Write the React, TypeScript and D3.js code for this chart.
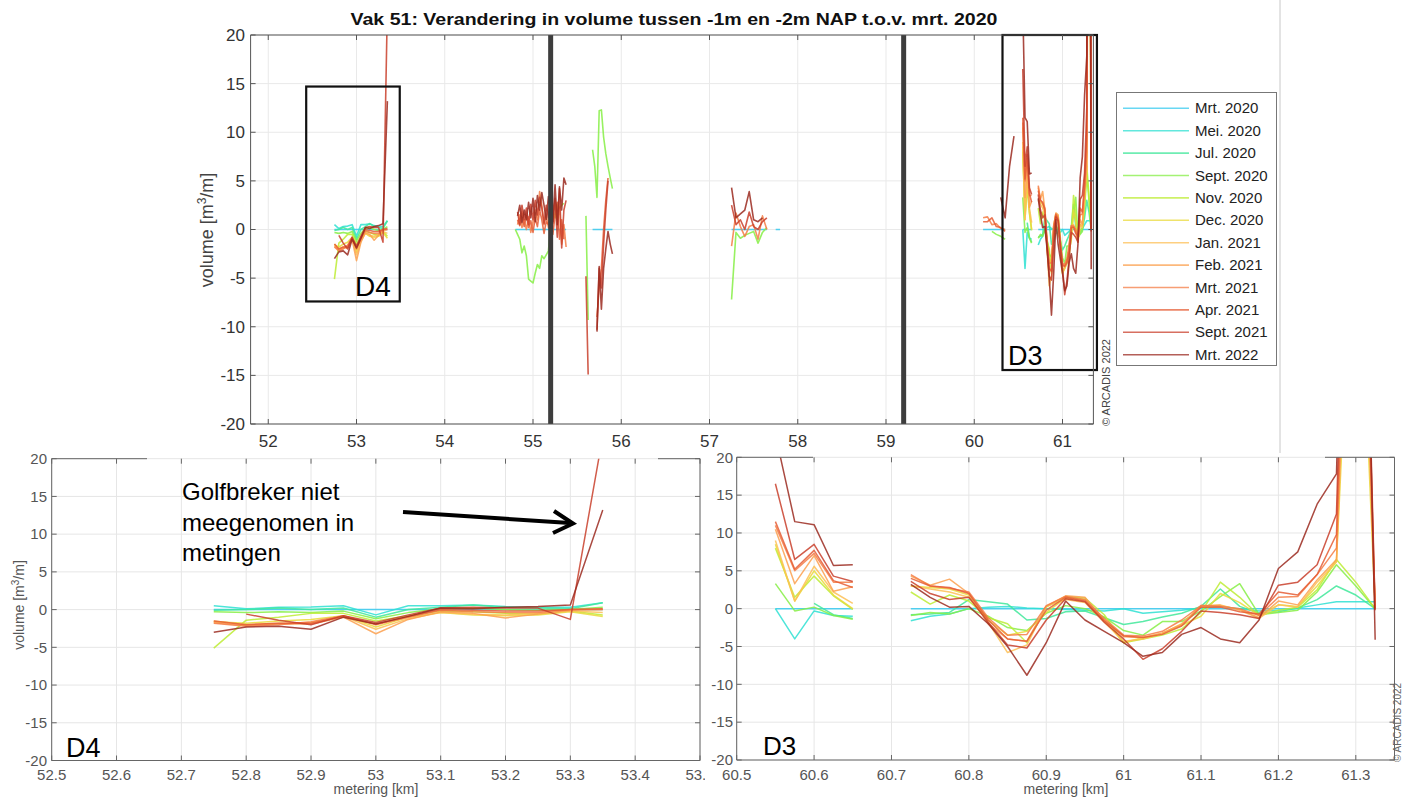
import React from 'react';
import * as d3 from 'd3';

// survey labels and their colours (cyan -> dark red)
const seriesNames = ['Mrt. 2020', 'Mei. 2020', 'Jul. 2020', 'Sept. 2020', 'Nov. 2020', 'Dec. 2020',
  'Jan. 2021', 'Feb. 2021', 'Mrt. 2021', 'Apr. 2021', 'Sept. 2021', 'Mrt. 2022'];
const seriesColors = ['#35c9ef', '#2ee0d2', '#3fe79a', '#86ee45', '#bdec34', '#ead93a',
  '#fdbf55', '#fba04f', '#f47d45', '#e55d35', '#c93f2b', '#9b2a20'];

const xTicksTop = [52, 53, 54, 55, 56, 57, 58, 59, 60, 61];
const xTicksD4 = [52.5, 52.6, 52.7, 52.8, 52.9, 53, 53.1, 53.2, 53.3, 53.4, 53.5];
const xTicksD3 = [60.5, 60.6, 60.7, 60.8, 60.9, 61, 61.1, 61.2, 61.3];
const yTicks = [-20, -15, -10, -5, 0, 5, 10, 15, 20];
const barKm = [55.2, 59.2];

// D4 stretch
const kmD4 = [52.75, 52.8, 52.85, 52.9, 52.95, 53.0, 53.05, 53.1, 53.15, 53.2, 53.25, 53.3, 53.35];
const volD4 = [
  [0, 0, 0, 0, 0, 0, 0, 0, 0, 0, 0, 0, 0],
  [0.5, 0.1, 0.3, 0.35, 0.5, -0.7, 0.5, 0.5, 0.6, 0.4, 0.3, 0.3, 0.9],
  [-0.1, 0.0, 0.2, 0.0, 0.2, -1.0, 0.0, 0.3, 0.6, 0.3, 0.2, 0.1, 0.9],
  [-0.3, -0.4, -0.3, -0.4, -0.2, -1.2, -0.4, 0.1, 0.2, 0.0, -0.1, 0.0, 0.3],
  [-5.1, -1.4, -1.0, -0.5, -0.5, -1.5, -0.8, -0.2, -0.3, -0.5, -0.6, -0.2, -0.7],
  [-1.6, -1.8, -1.5, -1.3, -0.8, -2.3, -1.0, -0.4, -0.7, -0.8, -0.7, -0.3, -0.9],
  [-1.5, -2.0, -1.8, -1.7, -0.9, -2.6, -1.2, -0.4, -0.6, -0.7, -0.5, -0.2, -0.4],
  [-1.7, -2.1, -1.9, -1.9, -1.0, -3.2, -1.3, -0.3, -0.5, -1.1, -0.6, -0.1, 0.0],
  [-1.8, -2.2, -2.0, -1.6, -0.8, -2.0, -1.0, -0.1, -0.3, -0.4, -0.4, 0.0, 0.0],
  [-1.5, -2.0, -1.8, -1.8, -0.9, -1.9, -0.9, 0.0, -0.1, -0.2, -0.2, 0.0, 0.1],
  [null, -0.6, -1.4, -2.0, -0.8, -1.7, -0.7, 0.2, 0.3, 0.2, 0.2, -1.3, 23],
  [-3.0, -2.3, -2.2, -2.6, -1.0, -1.9, -0.9, 0.2, 0.1, 0.3, 0.4, 0.6, 13.2],
];

// around 55 km
const kmB = [54.8, 54.825, 54.85, 54.875, 54.9, 54.925, 54.95, 54.975, 55.0, 55.025, 55.05, 55.075,
  55.1, 55.125, 55.15, 55.175, 55.2, 55.225, 55.25, 55.275, 55.3, 55.325, 55.35, 55.375];
const volB = [
  [0, 0, 0, 0, 0, 0, 0, 0, 0, 0, 0, 0, 0, 0, 0, 0, 0, 0, 0, 0, 0, 0, 0, 0],
  null, null,
  [0.0, -0.5, -1.0, -2.4, -1.7, -2.7, -5.1, -5.3, -5.5, -4.5, -3.6, -4.0, -2.7, -3.0, -2.6, -2.2, 0.5, 2.0, 1.2, 2.6, 2.2, 2.5, 2.7, null],
  null, null, null, null,
  [null, 0.5, 1.5, 0.2, 1.0, 0.0, 1.3, -0.3, 0.8, 2.0, 1.0, 3.9, 2.5, 0.5, 1.5, 0.2, 2.5, 0.8, 3.0, 1.0, 2.2, -1.5, 0.5, -1.8],
  [null, 1.0, 0.4, 1.8, 0.3, 1.5, 0.2, 0.9, -0.3, 1.2, 0.3, 2.0, 1.0, -0.4, 0.8, 0.5, 2.0, -0.5, 1.5, 2.8, -1.0, 1.0, -1.0, null],
  [null, 1.8, 0.5, 2.5, 1.0, 2.2, 0.5, 2.6, 1.0, 3.0, 1.5, 3.3, 2.2, 0.6, 2.5, 1.2, 3.0, 0.6, 3.2, -0.8, 4.2, -1.9, 2.0, 3.0],
  [null, 1.4, 2.5, 0.7, 2.0, 1.0, 2.8, 1.2, 3.2, 0.8, 3.5, 2.0, 3.8, 2.5, 1.0, 3.4, 2.0, 0.8, 4.6, 0.5, 4.4, 2.0, 5.3, 4.6],
];

// around 55.7 km
const kmC = [55.6, 55.625, 55.65, 55.675, 55.7, 55.725, 55.75, 55.775, 55.8, 55.825, 55.85, 55.875, 55.9];
const volC = [
  [null, null, null, 0, 0, 0, 0, 0, 0, 0, 0, 0, 0],
  null, null,
  [1.4, -9.3, null, 8.2, 6.5, 3.3, 12.2, 12.3, 9.5, 7.8, 6.5, 5.3, 4.2],
  null, null, null, null, null,
  [null, null, null, null, null, -9.0, -6.0, -4.0, 0.0, 3.0, 5.3, null, null],
  [-4.8, -14.9, null, null, null, -10.3, -4.0, -6.0, -1.5, 2.0, 5.0, null, null],
  [null, null, null, null, null, -10.5, -3.8, -8.2, -4.0, -2.0, -0.2, -1.5, -2.5],
];

// around 57.5 km
const kmD = [57.25, 57.3, 57.35, 57.4, 57.45, 57.5, 57.55, 57.6, 57.65, 57.7, 57.75, 57.8];
const volD = [
  [0, 0, 0, 0, 0, 0, 0, 0, 0, null, 0, 0],
  null, null,
  [-7.2, -0.3, -0.9, -0.6, -0.4, -0.2, -1.4, -0.3, 0.2, null, null, null],
  null, null, null, null,
  [-1.7, 1.7, 0.3, -0.7, 0.3, 0.5, -1.0, 1.4, 0.0, null, null, null],
  null,
  [2.5, 0.5, 1.0, 0.0, 1.8, 0.3, 0.0, 0.8, 1.2, null, null, null],
  [4.3, 1.2, 1.6, 2.0, 3.9, 1.0, 0.8, 1.2, null, null, null, null],
];

// around 60.3 km
const kmE = [60.1, 60.15, 60.2, 60.25, 60.3, 60.35, 60.4, 60.45];
const volE = [
  [0, 0, 0, 0, 0, 0, null, null],
  null, null,
  [null, null, -0.2, -0.5, -0.7, -1.0, null, null],
  null, null, null, null,
  [1.2, 1.3, 0.5, 0.6, 0.1, 0.0, null, null],
  [0.8, 0.8, 1.2, 0.3, 0.2, -0.2, null, null],
  null,
  [null, null, null, null, 3.3, 1.2, 6.5, 9.6],
];

// D3 stretch, first part
const kmD3a = [60.55, 60.575, 60.6, 60.625, 60.65];
const volD3a = [
  [0, 0, 0, 0, 0],
  [0, -4.0, -0.3, -0.9, -1.0],
  [null, null, 0.7, -0.8, -1.3],
  [3.3, -0.3, 0.2, -0.9, -1.4],
  [8.0, 1.5, 4.3, 1.7, -0.1],
  [8.5, 1.0, 5.0, 1.8, 0.0],
  [9.0, 1.0, 5.6, 2.2, 0.7],
  [10.5, 3.3, 7.0, 2.3, 2.9],
  [11.0, 5.0, 7.3, 3.5, 3.5],
  [11.5, 5.2, 7.7, 3.7, 2.8],
  [16.5, 6.5, 8.5, 4.3, 3.6],
  [23.0, 11.5, 11.1, 5.7, 5.8],
];

// D3 stretch, second part
const kmD3b = [60.725, 60.75, 60.775, 60.8, 60.825, 60.85, 60.875, 60.9, 60.925, 60.95, 60.975, 61.0,
  61.025, 61.05, 61.075, 61.1, 61.125, 61.15, 61.175, 61.2, 61.225, 61.25, 61.275, 61.3, 61.325];
const volD3b = [
  [0, 0, 0, 0, 0, 0, 0, 0, 0, 0, 0, 0, 0, 0, 0, 0, 0, 0, 0, 0, 0, 0, 0, 0, 0],
  [-1.6, -1.0, -0.7, 0.0, 0.2, 0.3, 0.1, 0.0, -0.1, -0.2, -0.3, 0.0, -0.6, -0.4, -0.2, 0.1, 0.3, 0.0, -0.3, -0.2, 0.1, 0.5, 0.9, 0.9, 0.9],
  [-0.8, -0.7, -0.5, 1.2, 0.9, 0.6, -1.5, -1.3, -0.4, -0.3, -1.2, -2.1, -1.7, -1.1, -0.6, 0.3, 2.6, 0.3, -0.6, -0.4, 0.1, 1.2, 3.0, 1.8, 0.0],
  [-0.9, -0.5, -0.7, 0.0, -1.0, -2.5, -2.9, -0.6, 0.4, 0.0, -1.1, -2.9, -3.5, -1.7, -1.7, -0.3, 1.6, 3.3, -0.8, -0.5, -0.2, 2.2, 5.8, 3.0, 0.0],
  [2.2, 0.6, 1.8, 1.0, -1.2, -2.0, -4.5, 0.2, 1.6, 1.4, -0.8, -4.5, -4.0, -3.5, -2.7, -0.5, 3.5, 1.5, -0.9, -0.2, 0.2, 2.5, 6.5, 3.5, 0.0],
  [3.0, 2.8, 2.6, 1.8, -1.5, -3.5, -3.0, -0.5, 1.4, 1.2, -1.5, -4.5, -3.8, -3.3, -2.2, -1.0, 2.0, 0.8, -0.9, 0.5, 0.3, 3.0, 6.2, 60, 0.0],
  [3.0, 2.6, 2.2, 1.5, -1.8, -5.8, -4.8, 0.3, 1.2, 0.8, -1.8, -4.3, -4.0, -3.3, -2.0, 0.3, 0.5, -0.2, -1.3, 0.5, 0.2, 3.5, 6.2, 70, 0.0],
  [4.3, 3.1, 3.9, 2.0, -2.0, -4.0, -4.3, 0.3, 1.7, 1.5, -1.5, -3.7, -3.8, -3.2, -2.1, 0.4, 0.4, -0.1, -1.2, 1.0, 0.5, 3.8, 6.5, 75, 0.0],
  [4.5, 3.0, 2.7, 2.2, -1.2, -3.5, -3.4, 0.4, 1.6, 1.2, -1.3, -3.5, -3.6, -3.0, -1.5, 0.4, 0.3, 0.0, -0.9, 1.5, 1.6, 4.5, 8.0, 80, 0.0],
  [4.0, 3.0, 2.8, 2.0, -1.5, -4.0, -4.3, -0.2, 1.5, 1.0, -1.6, -3.6, -3.8, -3.4, -2.3, 0.2, 0.2, -0.4, -0.7, 2.2, 1.8, 4.5, 9.8, 90, 0.0],
  [3.6, 2.0, 1.2, 1.5, -1.8, -4.8, -5.2, -1.5, 1.3, 0.9, -1.8, -4.0, -6.7, -5.3, -3.0, -0.3, -0.5, -0.8, -1.3, 3.1, 3.5, 5.8, 12.5, 100, -0.2],
  [3.2, 1.5, 0.2, 0.3, -2.0, -5.0, -8.8, -4.5, 1.0, -1.5, -3.0, -4.5, -6.3, -5.8, -3.4, -2.5, -4.0, -4.5, -1.5, 5.3, 7.5, 13.8, 17.8, 110, -4.1],
];

type Row = (number | null)[] | null;
const segments: { km: number[]; vol: Row[] }[] = [
  { km: kmD4, vol: volD4 },
  { km: kmB, vol: volB },
  { km: kmC, vol: volC },
  { km: kmD, vol: volD },
  { km: kmE, vol: volE },
  { km: kmD3a, vol: volD3a },
  { km: kmD3b, vol: volD3b },
];

const FONT = '"Liberation Sans", Arial, Helvetica, sans-serif';

type Box = { l: number; r: number; t: number; b: number };
type Scale = d3.ScaleLinear<number, number>;

function dataPaths(x: Scale, y: Scale) {
  const line = d3.line<[number, number | null]>()
    .defined(d => d[1] != null)
    .x(d => x(d[0]))
    .y(d => y(d[1] as number));
  const out: { key: string; k: number; d: string }[] = [];
  segments.forEach((seg, si) => {
    seg.vol.forEach((row, k) => {
      if (!row) return;
      const pts = seg.km.map((km, i) => [km, row[i]] as [number, number | null]);
      out.push({ key: `${si}-${k}`, k, d: line(pts) || '' });
    });
  });
  out.sort((a, b) => a.k - b.k);
  return out;
}

function Plot(props: {
  id: string; box: Box; xDomain: [number, number]; xTicks: number[];
  fs: number; tickColor: string; xLabelY: number; yLabelX: number;
  gridColor: string; frameColor: string; lineW: number;
  topFrame?: [number, number][];
  extra?: (x: Scale, y: Scale) => React.ReactNode;
}) {
  const { box } = props;
  const x = d3.scaleLinear().domain(props.xDomain).range([box.l, box.r]);
  const y = d3.scaleLinear().domain([-20, 20]).range([box.b, box.t]);
  const paths = dataPaths(x, y);
  const fmt = (v: number) => String(+v.toFixed(2));
  const tk = 5;
  const tops = props.topFrame || [[box.l, box.r]];
  return (
    <g>
      <defs>
        <clipPath id={props.id}>
          <rect x={box.l} y={box.t} width={box.r - box.l} height={box.b - box.t} />
        </clipPath>
      </defs>
      <g stroke={props.gridColor} strokeWidth={1}>
        {props.xTicks.map(v => <line key={'gx' + v} x1={x(v)} x2={x(v)} y1={box.t} y2={box.b} />)}
        {yTicks.map(v => <line key={'gy' + v} x1={box.l} x2={box.r} y1={y(v)} y2={y(v)} />)}
      </g>
      <g clipPath={`url(#${props.id})`} fill="none" strokeWidth={props.lineW} strokeLinejoin="round">
        {paths.map(p => <path key={p.key} d={p.d} stroke={seriesColors[p.k]} strokeOpacity={0.85} />)}
      </g>
      {props.extra && props.extra(x, y)}
      <g stroke={props.frameColor} strokeWidth={1} fill="none">
        <line x1={box.l} x2={box.l} y1={box.t} y2={box.b} />
        <line x1={box.r} x2={box.r} y1={box.t} y2={box.b} />
        <line x1={box.l} x2={box.r} y1={box.b} y2={box.b} />
        {tops.map((s, i) => <line key={'tf' + i} x1={s[0]} x2={s[1]} y1={box.t} y2={box.t} />)}
        {props.xTicks.map(v => (
          <g key={'tx' + v}>
            <line x1={x(v)} x2={x(v)} y1={box.b} y2={box.b - tk} />
            <line x1={x(v)} x2={x(v)} y1={box.t} y2={box.t + tk} />
          </g>
        ))}
        {yTicks.map(v => (
          <g key={'ty' + v}>
            <line x1={box.l} x2={box.l + tk} y1={y(v)} y2={y(v)} />
            <line x1={box.r} x2={box.r - tk} y1={y(v)} y2={y(v)} />
          </g>
        ))}
      </g>
      <g fontSize={props.fs} fill={props.tickColor}>
        {props.xTicks.map(v => (
          <text key={'lx' + v} x={x(v)} y={props.xLabelY} textAnchor="middle">{fmt(v)}</text>
        ))}
        {yTicks.map(v => (
          <text key={'ly' + v} x={props.yLabelX} y={y(v) + props.fs * 0.35} textAnchor="end">{v}</text>
        ))}
      </g>
    </g>
  );
}

export default function App() {
  const topExtra = (x: Scale, y: Scale) => (
    <g>
      {barKm.map(v => (
        <line key={'bar' + v} x1={x(v)} x2={x(v)} y1={y(20)} y2={y(-20)} stroke="#3d3d3d" strokeWidth={5} />
      ))}
      <rect x={x(52.43)} y={y(14.7)} width={x(53.49) - x(52.43)} height={y(-7.4) - y(14.7)}
        fill="none" stroke="#111" strokeWidth={2.2} />
      <rect x={x(60.32)} y={y(20)} width={x(61.39) - x(60.32)} height={y(-14.45) - y(20)}
        fill="none" stroke="#111" strokeWidth={2.2} />
    </g>
  );

  return (
    <svg width={1402} height={798} fontFamily={FONT}
      style={{ position: 'absolute', left: 0, top: 0, background: '#fff', display: 'block' }}>
      <rect x={0} y={0} width={1402} height={798} fill="#fff" />

      {/* top overview */}
      <text x={674} y={25} textAnchor="middle" fontWeight="bold" fontSize={17} fill="#111"
        textLength={647} lengthAdjust="spacingAndGlyphs">
        Vak 51: Verandering in volume tussen -1m en -2m NAP t.o.v. mrt. 2020
      </text>
      <Plot id="clipTop" box={{ l: 250.6, r: 1093.4, t: 35, b: 424 }} xDomain={[51.8, 61.35]}
        xTicks={xTicksTop} fs={17} tickColor="#333" xLabelY={447} yLabelX={245}
        gridColor="#e9e9e9" frameColor="#555" lineW={1.6} extra={topExtra} />
      <text transform="translate(213,230) rotate(-90)" textAnchor="middle" fontSize={18} fill="#444">
        volume [m<tspan dy={-7} fontSize={12}>3</tspan><tspan dy={7}>/m]</tspan>
      </text>
      <text x={355} y={296} fontSize={28} fill="#000">D4</text>
      <text x={1008} y={365} fontSize={27} fill="#000">D3</text>
      <text transform="translate(1110,426) rotate(-90)" fontSize={11} fill="#444">© ARCADIS 2022</text>
      <line x1={1280} x2={1280} y1={0} y2={453} stroke="#c8c8c8" strokeWidth={1} />

      {/* legend */}
      <rect x={1116.5} y={92.5} width={160} height={273} fill="#fff" stroke="#777" strokeWidth={1} />
      {seriesNames.map((name, i) => {
        const ly = 108.3 + i * 22.4;
        return (
          <g key={name}>
            <line x1={1123} x2={1189} y1={ly} y2={ly} stroke={seriesColors[i]} strokeWidth={1.6} strokeOpacity={0.75} />
            <text x={1195} y={ly + 5} fontSize={15} fill="#222">{name}</text>
          </g>
        );
      })}

      {/* bottom-left detail D4 */}
      <Plot id="clipD4" box={{ l: 51.7, r: 700, t: 458.7, b: 760.5 }} xDomain={[52.5, 53.5]}
        xTicks={xTicksD4} fs={15} tickColor="#555" xLabelY={780} yLabelX={47}
        gridColor="#e6e6e6" frameColor="#666" lineW={1.5} topFrame={[[51.7, 147], [658, 700]]} />
      <text transform="translate(24,605) rotate(-90)" textAnchor="middle" fontSize={14} fill="#555">
        volume [m<tspan dy={-5} fontSize={10}>3</tspan><tspan dy={5}>/m]</tspan>
      </text>
      <text x={376} y={794} textAnchor="middle" fontSize={14} fill="#555">metering [km]</text>
      <text x={66} y={757} fontSize={27} fill="#000">D4</text>
      <g fontSize={24} fill="#000">
        <text x={182} y={500}>Golfbreker niet</text>
        <text x={182} y={531}>meegenomen in</text>
        <text x={182} y={561}>metingen</text>
      </g>
      <line x1={403} y1={512} x2={570} y2={523} stroke="#000" strokeWidth={4} />
      <polyline points="554,511 573,523.5 553,533" fill="none" stroke="#000" strokeWidth={4} />

      {/* bottom-right detail D3 */}
      <rect x={705} y={455} width={697} height={343} fill="#fff" />
      <Plot id="clipD3" box={{ l: 736.7, r: 1394.5, t: 457.3, b: 760 }} xDomain={[60.5, 61.35]}
        xTicks={xTicksD3} fs={15} tickColor="#555" xLabelY={780} yLabelX={733}
        gridColor="#e6e6e6" frameColor="#666" lineW={1.5} topFrame={[[736.7, 813], [1325, 1394.5]]} />
      <text x={1066} y={794} textAnchor="middle" fontSize={14} fill="#555">metering [km]</text>
      <text x={763} y={755} fontSize={26} fill="#000">D3</text>
      <text transform="translate(1401,762) rotate(-90)" fontSize={10} fill="#666">© ARCADIS 2022</text>
    </svg>
  );
}
